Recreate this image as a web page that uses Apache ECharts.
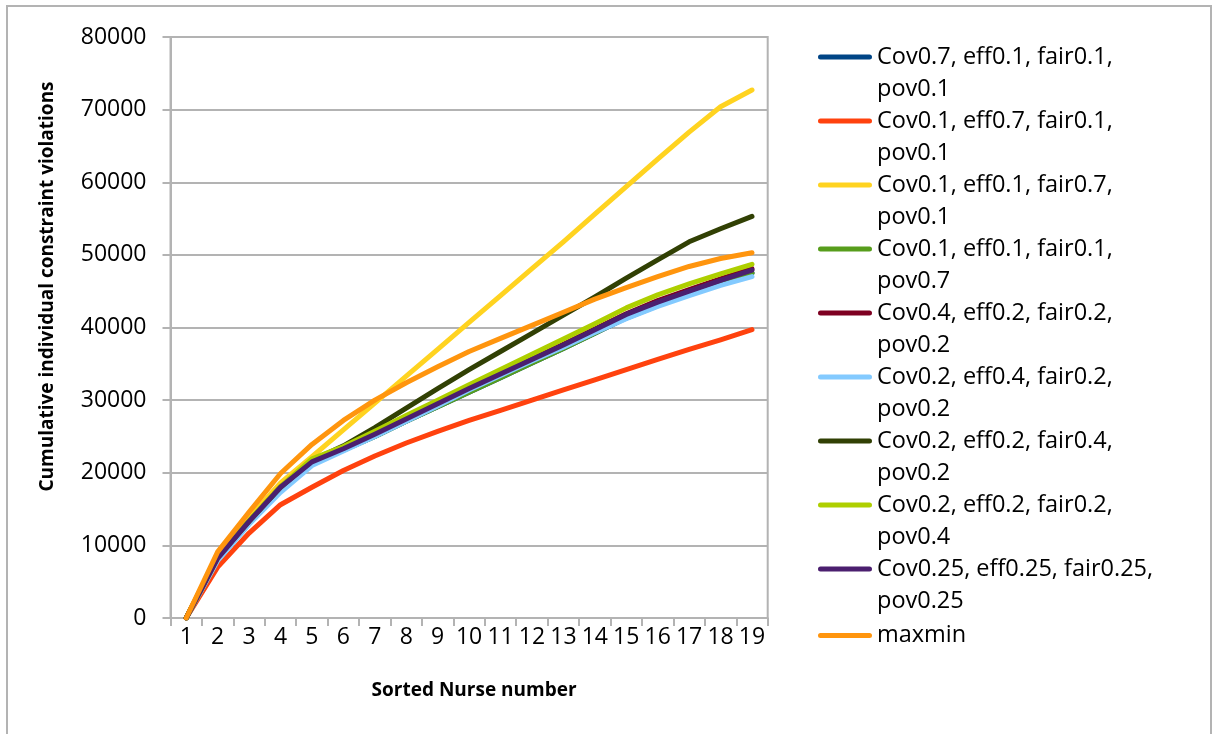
<!DOCTYPE html>
<html>
<head>
<meta charset="utf-8">
<script src="https://cdn.jsdelivr.net/npm/echarts@6/dist/echarts.min.js"></script>
<style>
  html, body { margin: 0; padding: 0; background: #ffffff; }
  #chart { width: 1217px; height: 734px; }
</style>
</head>
<body>
<div id="chart"></div>
<script>
// Nurse positions (sorted) on the x axis
const nurses = ['1','2','3','4','5','6','7','8','9','10','11','12','13','14','15','16','17','18','19'];

// Cumulative individual constraint violations per weighting scheme
const cov07 = [0, 8100, 13100, 17700, 21300, 23100, 25000, 27100, 29100, 31100, 33100, 35100, 37100, 39200, 41300, 43000, 44600, 46100, 47500];
const eff07 = [0, 7000, 11700, 15600, 18000, 20300, 22300, 24100, 25700, 27200, 28600, 30000, 31400, 32800, 34200, 35600, 37000, 38300, 39700];
const fair07 = [0, 8700, 13800, 18600, 22200, 25900, 29600, 33300, 37000, 40700, 44400, 48100, 51800, 55600, 59400, 63200, 66900, 70400, 72700];
const pov07 = [0, 8100, 13200, 17800, 21300, 23100, 25000, 27100, 29100, 31100, 33100, 35100, 37100, 39200, 41400, 43100, 44700, 46200, 47500];
const cov04 = [0, 8200, 13300, 18000, 21500, 23300, 25300, 27400, 29500, 31600, 33700, 35700, 37700, 39800, 41900, 43700, 45200, 46700, 48100];
const eff04 = [0, 7900, 12900, 17300, 21000, 23000, 25000, 27100, 29200, 31400, 33400, 35400, 37300, 39300, 41200, 42900, 44400, 45800, 47000];
const fair04 = [0, 8400, 13300, 18000, 21700, 23700, 26200, 28900, 31600, 34200, 36700, 39200, 41700, 44200, 46800, 49300, 51800, 53600, 55300];
const pov04 = [0, 8300, 13400, 18100, 21900, 23600, 25700, 27900, 30000, 32100, 34200, 36300, 38400, 40500, 42700, 44500, 46000, 47400, 48700];
const equal025 = [0, 8200, 13300, 18000, 21500, 23300, 25300, 27400, 29500, 31600, 33600, 35600, 37600, 39700, 41800, 43500, 45000, 46500, 47900];
const maxmin = [0, 9100, 14600, 19900, 23900, 27200, 30000, 32400, 34600, 36700, 38500, 40300, 42100, 43900, 45500, 47000, 48400, 49500, 50300];

const seriesNames = [
  'Cov0.7, eff0.1, fair0.1,\npov0.1',
  'Cov0.1, eff0.7, fair0.1,\npov0.1',
  'Cov0.1, eff0.1, fair0.7,\npov0.1',
  'Cov0.1, eff0.1, fair0.1,\npov0.7',
  'Cov0.4, eff0.2, fair0.2,\npov0.2',
  'Cov0.2, eff0.4, fair0.2,\npov0.2',
  'Cov0.2, eff0.2, fair0.4,\npov0.2',
  'Cov0.2, eff0.2, fair0.2,\npov0.4',
  'Cov0.25, eff0.25, fair0.25,\npov0.25',
  'maxmin'
];
const seriesData = [cov07, eff07, fair07, pov07, cov04, eff04, fair04, pov04, equal025, maxmin];
const seriesColors = ['#004586', '#ff420e', '#ffd320', '#579d1c', '#7e0021', '#83caff', '#314004', '#aecf00', '#4b1f6f', '#ff950e'];

const FONT = '"Open Sans", "Noto Sans", sans-serif';
const GRID_GRAY = '#b3b3b3';

// Legend keys: a rounded bar inside a 54x37 box. Two-line entries put the bar
// level with the first text line (top of the box); single-line entries centre it.
// The tiny corner squares only fix the box extent.
const KEY_TOP = 'path://M2.5,0 H51.5 A2.5,2.5 0 0 1 51.5,5 H2.5 A2.5,2.5 0 0 1 2.5,0 Z M0,37 H0.05 V36.95 H0 Z';
const KEY_MID = 'path://M2.5,16 H51.5 A2.5,2.5 0 0 1 51.5,21 H2.5 A2.5,2.5 0 0 1 2.5,16 Z M0,0 H0.05 V0.05 H0 Z M0,37 H0.05 V36.95 H0 Z';

const chart = echarts.init(document.getElementById('chart'), null, { renderer: 'canvas' });

const legendData = seriesNames.map(function (name) {
  const multi = name.indexOf('\n') >= 0;
  return { name: name, icon: multi ? KEY_TOP : KEY_MID };
});

chart.setOption({
  backgroundColor: '#ffffff',
  animation: false,
  textStyle: { fontFamily: FONT },
  graphic: [{
    type: 'rect',
    z: -10,
    silent: true,
    shape: { x: 7, y: 6, width: 1204, height: 760 },
    style: { fill: 'none', stroke: GRID_GRAY, lineWidth: 2 }
  }],
  grid: {
    left: 170.5,
    right: 449.3,
    top: 37,
    bottom: 116,
    show: true,
    borderColor: GRID_GRAY,
    borderWidth: 2,
    backgroundColor: 'transparent'
  },
  legend: {
    orient: 'vertical',
    left: 818,
    top: 41,
    padding: 0,
    itemGap: 0,
    itemWidth: 54,
    itemHeight: 37,
    itemStyle: { borderWidth: 0 },
    data: legendData,
    textStyle: {
      fontFamily: FONT,
      fontSize: 23.5,
      lineHeight: 32,
      color: '#000000'
    }
  },
  xAxis: {
    type: 'category',
    data: nurses,
    boundaryGap: true,
    name: 'Sorted Nurse number',
    nameLocation: 'middle',
    nameGap: 63,
    nameTextStyle: {
      fontFamily: FONT,
      fontSize: 19,
      fontWeight: 'bold',
      color: '#000000',
      padding: [0, 0, 0, 10]
    },
    axisLine: { show: true, lineStyle: { color: GRID_GRAY, width: 2 } },
    axisTick: { show: true, length: 8, interval: 0, lineStyle: { color: GRID_GRAY, width: 2 } },
    axisLabel: {
      interval: 0,
      margin: 8,
      fontFamily: FONT,
      fontSize: 23,
      color: '#000000'
    },
    splitLine: { show: false }
  },
  yAxis: {
    type: 'value',
    min: 0,
    max: 80000,
    interval: 10000,
    name: 'Cumulative individual constraint violations',
    nameLocation: 'middle',
    nameRotate: 90,
    nameGap: 113,
    nameTextStyle: {
      fontFamily: FONT,
      fontSize: 19,
      fontWeight: 'bold',
      color: '#000000',
      padding: [0, 0, 0, 82]
    },
    axisLine: { show: true, lineStyle: { color: GRID_GRAY, width: 2 } },
    axisTick: { show: true, length: 8, lineStyle: { color: GRID_GRAY, width: 2 } },
    axisLabel: {
      margin: 24,
      fontFamily: FONT,
      fontSize: 23,
      color: '#000000',
      formatter: function (v) { return String(v); }
    },
    splitLine: { show: true, lineStyle: { color: GRID_GRAY, width: 2 } }
  },
  series: seriesNames.map(function (name, i) {
    return {
      name: name,
      type: 'line',
      data: seriesData[i],
      symbol: 'none',
      smooth: false,
      color: seriesColors[i],
      lineStyle: { color: seriesColors[i], width: 5, cap: 'round', join: 'round' },
      itemStyle: { color: seriesColors[i] },
      emphasis: { disabled: true }
    };
  })
});
</script>
</body>
</html>
